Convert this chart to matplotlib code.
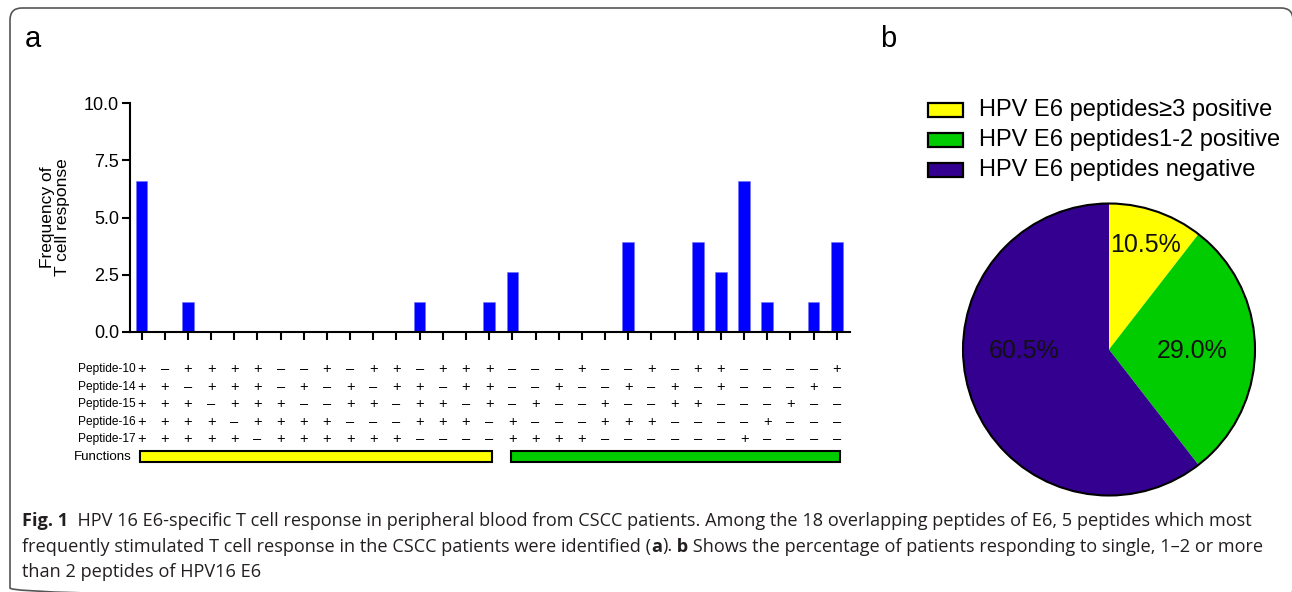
"""
    HPV16 E6 T cell response figure: bar chart + peptide table (a), pie (b)
"""
import matplotlib
matplotlib.use("Agg")
import matplotlib.pyplot as plt
from matplotlib.patches import Rectangle, FancyBboxPatch, Circle

plt.rcParams['font.family'] = ['Liberation Sans', 'DejaVu Sans']

W, H = 1292, 592

### panel a data
response = [6.58, 0, 1.32, 0, 0, 0, 0, 0, 0, 0, 0, 0, 1.32, 0, 0, 1.32,
            2.63, 0, 0, 0, 0, 3.95, 0, 0, 3.95, 2.63, 6.58, 1.32, 0, 1.32, 3.95]
peptides = ["Peptide-10", "Peptide-14", "Peptide-15", "Peptide-16", "Peptide-17"]
patterns = [
    "+-++++--+-++-" + "+++---+--+-++----+",
    "++-+++-+-+-++" + "-++--+--+-+-+---+-",
    "+++-+++--++-+" + "+-+-+--+--++---+--",
    "++++-++++---+" + "++-+---+++----+---",
    "+++++-++++++-" + "---++++------+----",
]
function_groups = [(0, 15, "#FFFF00"), (16, 30, "#00CC00")]
yticks = [0, 2.5, 5.0, 7.5, 10.0]

### panel b data
pie_labels = ["HPV E6 peptides\u22653 positive",
              "HPV E6 peptides1-2 positive",
              "HPV E6 peptides negative"]
pie_pct = [10.5, 29.0, 60.5]
pie_colors = ["#FFFF00", "#00CC00", "#330090"]

### caption
cap_lines = [
    [("Fig. 1", True), ("  HPV 16 E6-specific T cell response in peripheral blood from CSCC patients. "
                        "Among the 18 overlapping peptides of E6, 5 peptides which most", False)],
    [("frequently stimulated T cell response in the CSCC patients were identified (", False),
     ("a", True), (").", False), (" b", True),
     (" Shows the percentage of patients responding to single, 1\u20132 or more", False)],
    [("than 2 peptides of HPV16 E6", False)],
]
CAP_FONT = ["Open Sans", "DejaVu Sans"]
CAP_SIZE = 13.1


fig = plt.figure(figsize=(W / 100, H / 100), dpi=100)


def px_axes(x0, y0, x1, y1):
    # axes from pixel box (top-left origin)
    return fig.add_axes([x0 / W, 1 - y1 / H, (x1 - x0) / W, (y1 - y0) / H])


# overlay in pixel coords
ov = px_axes(0, 0, W, H)
ov.set_xlim(0, W)
ov.set_ylim(H, 0)
ov.axis("off")
ov.add_patch(FancyBboxPatch((10, 8), 1283, 592, boxstyle="round,pad=0,rounding_size=12",
                            fill=False, ec="#555555", lw=1.2, clip_on=False))
ov.text(25, 47, "a", fontsize=21, va="baseline")
ov.text(880, 47, "b", fontsize=21, va="baseline")

### bar chart
XMIN, XMAX = -0.5, 30.57
ax = px_axes(130, 103, 850, 332)
x = list(range(len(response)))
ax.bar(x, response, width=0.5, color="#0000FF", edgecolor="#7070ff", linewidth=0.4)
ax.set_xlim(XMIN, XMAX)
ax.set_ylim(0, 10)
ax.set_xticks(x)
ax.set_xticklabels([])
ax.set_yticks(yticks)
ax.set_yticklabels([f"{v:.1f}" for v in yticks], fontsize=13)
ax.tick_params(axis="both", direction="out", length=6, width=1.5, color="black", pad=2)
for side in ["top", "right"]:
    ax.spines[side].set_visible(False)
for side in ["left", "bottom"]:
    ax.spines[side].set_linewidth(1.5)
ax.set_ylabel("Frequency of\nT cell response", fontsize=12.5, linespacing=1.0, labelpad=10)

### peptide table
tab = px_axes(130, 360, 850, 466)
tab.set_xlim(XMIN, XMAX)
tab.set_ylim(5.53, -0.514)
tab.axis("off")
for r, (name, pat) in enumerate(zip(peptides, patterns)):
    tab.text(-0.25, r, name, ha="right", va="center", fontsize=8.6)
    for c, s in enumerate(pat):
        sym = "+" if s == "+" else "\u2013"
        tab.text(c, r, sym, ha="center", va="center", fontsize=10.5)
tab.text(-0.45, 5, "Functions", ha="right", va="center", fontsize=9.6)
for start, end, col in function_groups:
    tab.add_patch(Rectangle((start - 0.08, 5 - 0.33), end - start + 0.22, 0.66,
                            facecolor=col, edgecolor="black", lw=1.5, clip_on=False))

### pie
cx, cy, R = 1109, 349.5, 146
pax = px_axes(cx - 150, cy - 150, cx + 150, cy + 150)
pax.pie(pie_pct, colors=pie_colors, startangle=90, counterclock=False,
        wedgeprops=dict(edgecolor="none"))
pax.add_patch(Circle((0, 0), 1, fill=False, ec="black", lw=1.5))
lim = 150 / R
pax.set_xlim(-lim, lim)
pax.set_ylim(-lim, lim)
label_pos = [(0.25, 0.716), (0.57, -0.01), (-0.58, -0.01)]
for (lx, ly), v in zip(label_pos, pie_pct):
    pax.text(lx, ly, f"{v:.1f}%", ha="center", va="center", fontsize=18, color="#111111")

# legend
for i, (lab, col) in enumerate(zip(pie_labels, pie_colors)):
    yc = 110 + i * 30.2
    ov.add_patch(Rectangle((928, yc - 7), 35, 14, facecolor=col, edgecolor="black", lw=1.6))
    ov.text(979, yc, lab, fontsize=17, va="center", ha="left")

### caption
renderer = fig.canvas.get_renderer()
for i, runs in enumerate(cap_lines):
    xx = 22
    yy = 526 + i * 25.5
    for s, bold in runs:
        t = ov.text(xx, yy, s, fontsize=CAP_SIZE, family=CAP_FONT,
                    fontweight="bold" if bold else "normal", va="baseline", color="#231f20")
        xx += t.get_window_extent(renderer=renderer).width

fig.savefig("out.png", dpi=100)
